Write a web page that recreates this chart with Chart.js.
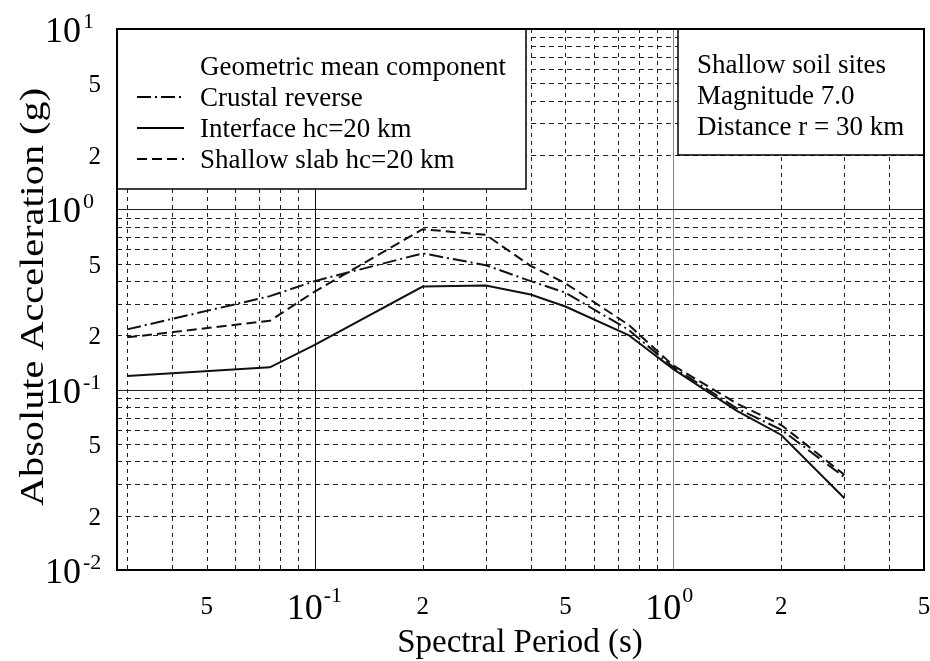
<!DOCTYPE html>
<html>
<head>
<meta charset="utf-8">
<script src="https://cdn.jsdelivr.net/npm/chart.js@4.4.1/dist/chart.umd.min.js"></script>
<style>
  html, body { margin: 0; padding: 0; background: #fff; }
  #wrap { width: 930px; height: 661px; }
</style>
</head>
<body>
<div id="wrap"><canvas id="myChart" width="930" height="661"></canvas></div>
<script>
// spectral periods (s)
const periods = [0.03, 0.075, 0.1, 0.2, 0.3, 0.4, 0.5, 0.75, 1.0, 1.5, 2.0, 3.0];
// absolute acceleration (g), geometric mean component
const crustalReverse = [0.216, 0.33, 0.40, 0.57, 0.49, 0.40, 0.345, 0.215, 0.133, 0.079, 0.060, 0.0327];
const interfaceHc20 = [0.119, 0.133, 0.177, 0.373, 0.378, 0.337, 0.289, 0.201, 0.130, 0.0765, 0.0561, 0.0250];
const shallowSlabHc20 = [0.195, 0.241, 0.35, 0.776, 0.722, 0.486, 0.389, 0.229, 0.136, 0.084, 0.0637, 0.0337];

const seriesNames = ["Crustal reverse", "Interface hc=20 km", "Shallow slab hc=20 km"];
const legendTitle = "Geometric mean component";
const infoLines = ["Shallow soil sites", "Magnitude 7.0", "Distance r = 30 km"];

// tick labels
const xTickLabels = [
    { v: 0.05, base: "5" }, { v: 0.1, base: "10", exp: "-1" }, { v: 0.2, base: "2" },
    { v: 0.5, base: "5" }, { v: 1, base: "10", exp: "0" }, { v: 2, base: "2" }, { v: 5, base: "5" }
];
const yTickLabels = [
    { v: 10, base: "10", exp: "1" }, { v: 5, base: "5" }, { v: 2, base: "2" },
    { v: 1, base: "10", exp: "0" }, { v: 0.5, base: "5" }, { v: 0.2, base: "2" },
    { v: 0.1, base: "10", exp: "-1" }, { v: 0.05, base: "5" }, { v: 0.02, base: "2" },
    { v: 0.01, base: "10", exp: "-2" }
];

const SERIF = "'Liberation Serif', 'DejaVu Serif', serif";
const dashDot = [14, 4, 2, 4];
const dashed = [10, 5];

const toPts = (ys) => periods.map((p, i) => ({ x: p, y: ys[i] }));

// grid, legend boxes and axis text
const paperPlugin = {
    id: "paper",
    beforeDatasetsDraw(chart) {
        const { ctx, chartArea: a, scales: { x, y } } = chart;
        ctx.save();
        ctx.lineWidth = 1;
        // vertical
        for (let d = -2; d <= 0; d++) {
            for (let k = 1; k <= 9; k++) {
                const v = k * Math.pow(10, d);
                if (v <= x.min || v >= x.max) continue;
                const px = Math.round(x.getPixelForValue(v)) + 0.5;
                ctx.beginPath();
                if (k === 1) {
                    ctx.setLineDash([]);
                    ctx.strokeStyle = d === 0 ? "#888" : "#111";
                } else {
                    ctx.setLineDash([4, 4]);
                    ctx.strokeStyle = "#222";
                }
                ctx.moveTo(px, a.top);
                ctx.lineTo(px, a.bottom);
                ctx.stroke();
            }
        }
        // horizontal
        for (let d = -2; d <= 0; d++) {
            for (let k = 1; k <= 9; k++) {
                const v = k * Math.pow(10, d);
                if (v <= y.min || v >= y.max) continue;
                const py = Math.round(y.getPixelForValue(v)) + 0.5;
                ctx.beginPath();
                if (k === 1) {
                    ctx.setLineDash([]);
                    ctx.strokeStyle = "#222";
                } else {
                    ctx.setLineDash([5, 4]);
                    ctx.strokeStyle = "#222";
                }
                ctx.moveTo(a.left, py);
                ctx.lineTo(a.right, py);
                ctx.stroke();
            }
        }
        ctx.restore();
    },
    afterDatasetsDraw(chart) {
        const { ctx, chartArea: a } = chart;
        ctx.save();
        ctx.setLineDash([]);
        // legend box
        ctx.fillStyle = "#fff";
        ctx.fillRect(a.left, a.top, 526 - a.left, 189 - a.top);
        ctx.strokeStyle = "#000";
        ctx.lineWidth = 1.5;
        ctx.strokeRect(a.left, a.top, 526 - a.left, 189 - a.top);
        ctx.fillStyle = "#000";
        ctx.font = "27px " + SERIF;
        ctx.textBaseline = "alphabetic";
        ctx.textAlign = "left";
        ctx.fillText(legendTitle, 200, 75);
        chart.data.datasets.forEach((ds, i) => {
            const base = 106 + i * 31;
            ctx.fillText(ds.label, 200, base);
            ctx.beginPath();
            ctx.lineWidth = 2;
            ctx.strokeStyle = "#000";
            ctx.setLineDash(ds.borderDash || []);
            ctx.moveTo(137, base - 9);
            ctx.lineTo(184, base - 9);
            ctx.stroke();
        });
        ctx.setLineDash([]);
        // info box
        ctx.fillStyle = "#fff";
        ctx.fillRect(678, a.top, a.right - 678, 155 - a.top);
        ctx.lineWidth = 1.5;
        ctx.strokeRect(678, a.top, a.right - 678, 155 - a.top);
        ctx.fillStyle = "#000";
        infoLines.forEach((t, i) => ctx.fillText(t, 697, 73 + i * 31));
        // frame
        ctx.lineWidth = 2;
        ctx.strokeRect(a.left, a.top, a.right - a.left, a.bottom - a.top);
        ctx.restore();
    },
    afterDraw(chart) {
        const { ctx, chartArea: a, scales: { x, y } } = chart;
        ctx.save();
        ctx.fillStyle = "#000";
        ctx.textBaseline = "alphabetic";
        // y tick labels
        yTickLabels.forEach((t) => {
            const py = y.getPixelForValue(t.v);
            if (t.exp) {
                ctx.font = "36px " + SERIF;
                ctx.textAlign = "right";
                ctx.fillText(t.base, 81, py + 13);
                ctx.font = "22px " + SERIF;
                ctx.textAlign = "left";
                ctx.fillText(t.exp, 83, py - 1);
            } else {
                ctx.font = "25px " + SERIF;
                ctx.textAlign = "right";
                ctx.fillText(t.base, 101, py + 9);
            }
        });
        // x tick labels
        xTickLabels.forEach((t) => {
            const px = x.getPixelForValue(t.v);
            if (t.exp) {
                ctx.font = "36px " + SERIF;
                ctx.textAlign = "right";
                ctx.fillText(t.base, px + 8, 619);
                ctx.font = "22px " + SERIF;
                ctx.textAlign = "left";
                ctx.fillText(t.exp, px + 9, 602);
            } else {
                ctx.font = "25px " + SERIF;
                ctx.textAlign = "center";
                ctx.fillText(t.base, px, 614);
            }
        });
        // axis titles
        ctx.font = "33px " + SERIF;
        ctx.textAlign = "center";
        ctx.fillText("Spectral Period (s)", 520, 652);
        ctx.translate(43, 297);
        ctx.rotate(-Math.PI / 2);
        ctx.scale(1.22, 1);
        ctx.fillText("Absolute Acceleration (g)", 0, 0);
        ctx.restore();
    }
};

const ctx = document.getElementById("myChart");
const myChart = new Chart(ctx, {
    type: "line",
    data: {
        datasets: [
            {
                label: seriesNames[0],
                data: toPts(crustalReverse),
                borderColor: "#111",
                borderWidth: 2,
                borderDash: dashDot,
            },
            {
                label: seriesNames[1],
                data: toPts(interfaceHc20),
                borderColor: "#111",
                borderWidth: 2,
            },
            {
                label: seriesNames[2],
                data: toPts(shallowSlabHc20),
                borderColor: "#111",
                borderWidth: 2,
                borderDash: dashed,
            },
        ],
    },
    options: {
        responsive: false,
        animation: false,
        devicePixelRatio: 1,
        elements: { point: { radius: 0 }, line: { tension: 0, fill: false } },
        layout: { padding: { left: 117, top: 29, right: 6, bottom: 91 } },
        plugins: { legend: { display: false }, tooltip: { enabled: false } },
        scales: {
            x: {
                type: "logarithmic",
                min: 0.0281,
                max: 5,
                ticks: { display: false },
                grid: { display: false, drawTicks: false },
                border: { display: false },
            },
            y: {
                type: "logarithmic",
                min: 0.01,
                max: 10,
                ticks: { display: false },
                grid: { display: false, drawTicks: false },
                border: { display: false },
            },
        },
    },
    plugins: [paperPlugin],
});
</script>
</body>
</html>
